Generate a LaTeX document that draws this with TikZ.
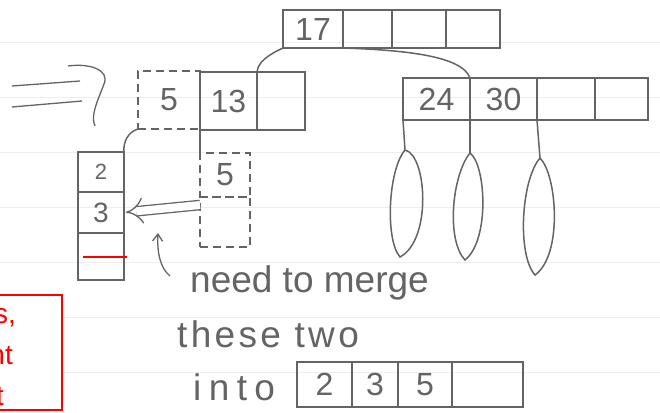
\documentclass[tikz,border=0pt]{standalone}
\usepackage{fontspec}
\setmainfont{Liberation Sans}
\usetikzlibrary{arrows.meta}
\definecolor{pen}{RGB}{100,100,100}
\definecolor{rule}{RGB}{238,238,238}
\begin{document}
\begin{tikzpicture}[x=1pt,y=-1pt,
  cell/.style={draw=pen, line width=1.5pt, inner sep=0pt, outer sep=0pt, text=pen,
    font=\fontsize{32}{32}\selectfont},
  dcell/.style={cell, dash pattern=on 8pt off 5pt},
  link/.style={draw=pen, line width=1.5pt},
  hand/.style={text=pen, inner sep=0pt, font=\fontsize{37}{37}\selectfont},
  leaf/.style={draw=pen, line width=1.5pt},
  redtxt/.style={text=red, inner sep=0pt, font=\fontsize{28}{28}\selectfont}]
\useasboundingbox (0,0) rectangle (660,412);
\fill[white] (0,0) rectangle (660,412);
% notebook rules
\foreach \yy in {42,97,152,207,262,317,372}
  \draw[rule, line width=0.8pt] (0,\yy) -- (660,\yy);

% top array
\node[cell, minimum width=60pt, minimum height=38pt] (A1) at (313,29) {17};
\node[cell, minimum width=49pt, minimum height=38pt] (A2) at (367.5,29) {};
\node[cell, minimum width=54pt, minimum height=38pt] (A3) at (419,29) {};
\node[cell, minimum width=54pt, minimum height=38pt] (A4) at (473,29) {};

% middle array
\node[dcell, minimum width=62pt, minimum height=58pt] (B1) at (169,100) {5};
\node[cell, minimum width=57pt, minimum height=58pt] (B2) at (228.5,101) {13};
\node[cell, minimum width=48pt, minimum height=58pt] (B3) at (281,101) {};

% right array
\node[cell, minimum width=67pt, minimum height=42pt] (R1) at (436.5,99) {24};
\node[cell, minimum width=67pt, minimum height=42pt] (R2) at (503.5,99) {30};
\node[cell, minimum width=58pt, minimum height=42pt] (R3) at (566,99) {};
\node[cell, minimum width=53pt, minimum height=42pt] (R4) at (621.5,99) {};

% left vertical array
\node[cell, minimum width=46pt, minimum height=40pt, font=\fontsize{22}{22}\selectfont] (C1) at (101,172) {2};
\node[cell, minimum width=46pt, minimum height=41pt, font=\fontsize{28}{28}\selectfont] (C2) at (101,212.5) {3};
\node[cell, minimum width=46pt, minimum height=47pt] (C3) at (101,256.5) {};
\draw[red, line width=2pt] (83,257) -- (127,257);

% dashed vertical array
\node[dcell, minimum width=50pt, minimum height=44pt] (D1) at (225,175) {5};
\node[dcell, minimum width=50pt, minimum height=50pt] (D2) at (225,222) {};

% bottom array
\node[cell, minimum width=55pt, minimum height=45pt] (E1) at (324.5,384.5) {2};
\node[cell, minimum width=46pt, minimum height=45pt] (E2) at (375,384.5) {3};
\node[cell, minimum width=54pt, minimum height=45pt] (E3) at (425,384.5) {5};
\node[cell, minimum width=71pt, minimum height=45pt] (E4) at (487.5,384.5) {};

% connectors
\draw[link] (A1.south west) .. controls (268,55) and (258,62) .. (B3.north west);
\draw[link] (A1.south east) .. controls (400,50) and (462,55) .. (R2.north west);
\draw[link] (B1.south west) .. controls (128,132) and (123,142) .. (C1.north east);
\draw[link] (B2.south west) -- (D1.north west);

% leaves
\coordinate (L1) at (405,150);
\coordinate (L2) at (470,153);
\coordinate (L3) at (540,158);
\draw[link] (R1.south west) -- (L1);
\draw[link] (R2.south west) -- (L2);
\draw[link] (R3.south west) -- (L3);
\draw[leaf] (L1) .. controls (388,170) and (385,240) .. (400,257)
            .. controls (432,240) and (427,155) .. (L1);
\draw[leaf] (L2) .. controls (452,175) and (446,240) .. (465,260)
            .. controls (490,240) and (486,165) .. (L2);
\draw[leaf] (L3) .. controls (521,180) and (517,255) .. (535,275)
            .. controls (563,255) and (557,175) .. (L3);

% left "=>" mark
\draw[link, line width=1.3pt] (12,86) -- (80,81);
\draw[link, line width=1.3pt] (12,107) -- (82,101);
\draw[link, line width=1.3pt] (68,66) .. controls (90,63) and (110,70) .. (104,84)
  .. controls (98,100) and (90,116) .. (95,126);

% double arrow between the two arrays
\coordinate (dl) at ([yshift=-8pt]D2.north west);
\draw[draw=pen, line width=1.3pt, double=white, double distance=8pt, -{Implies}, shorten >=2pt]
  (dl) -- (C2.east);

% handwritten text
\node[hand, anchor=base west] (t1) at (190,292) {need to merge};
\node[hand, anchor=base west] (t2) at (177,347) {\addfontfeature{LetterSpace=9}these two};
\node[hand, anchor=base west] (t3) at (193,400) {\addfontfeature{LetterSpace=20}into};
\coordinate (hook) at (170,276);
\coordinate (tip) at (158,233);
\draw[link, line width=1.3pt, -{Straight Barb[length=7pt,width=10pt]}]
  (hook) .. controls (160,268) and (157,252) .. (tip);

% red box (cut off at left)
\draw[red, line width=2pt, fill=white] (-10,295) rectangle (62,410);
\node[redtxt, anchor=base east] (r1) at (16,323) {s,};
\node[redtxt, anchor=base east] (r2) at (13,364) {nt};
\node[redtxt, anchor=base east] (r3) at (4,405) {t};
\end{tikzpicture}
\end{document}
